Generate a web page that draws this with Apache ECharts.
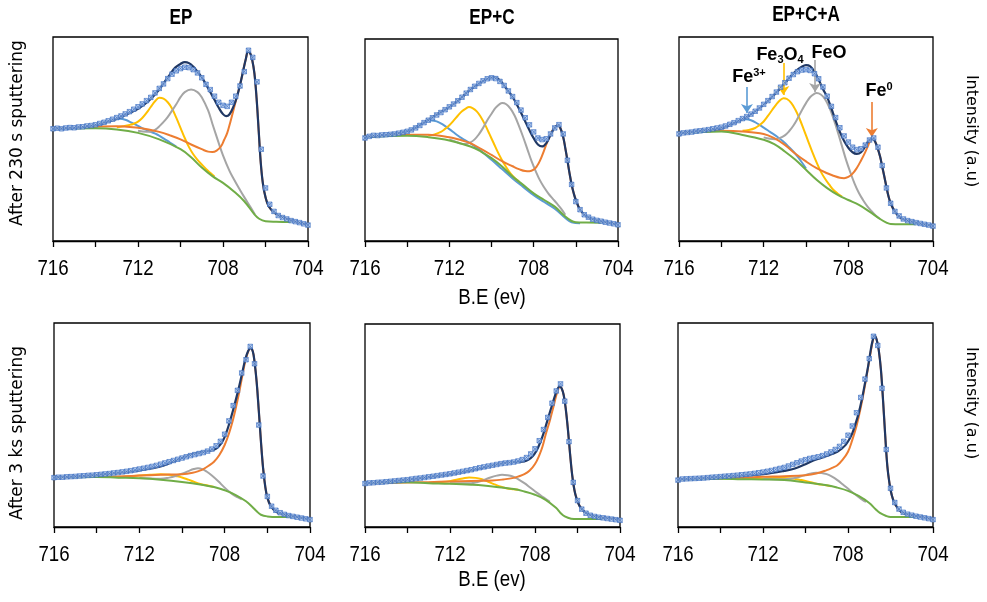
<!DOCTYPE html>
<html><head><meta charset="utf-8">
<script src="https://cdn.jsdelivr.net/npm/echarts@6.0.0/dist/echarts.min.js"></script>
<style>html,body{margin:0;padding:0;background:#fff}#c{width:987px;height:602px}</style>
</head><body><div id="c"></div>
<script>
// ---------- data ----------
const panelTitles = ['EP', 'EP+C', 'EP+C+A'];
const rowLabels = ['After 230 s sputtering', 'After 3 ks sputtering'];
const xTitle = 'B.E (ev)';
const yTitle = 'Intensity (a.u)';
const beLabels = [716, 712, 708, 704];

const rawBE = [716.0,715.8,715.6,715.4,715.2,715.0,714.8,714.6,714.4,714.2,714.0,713.8,713.6,713.4,713.2,713.0,712.8,712.6,712.4,712.2,712.0,711.8,711.6,711.4,711.2,711.0,710.8,710.6,710.4,710.2,710.0,709.8,709.6,709.4,709.2,709.0,708.8,708.6,708.4,708.2,708.0,707.8,707.6,707.4,707.2,707.0,706.8,706.6,706.4,706.2,706.0,705.8,705.6,705.4,705.2,705.0,704.8,704.6,704.4,704.2,704.0];

// Panel 1 : EP, 230 s
const p1Raw = [55.0,55.3,55.0,55.4,55.6,55.5,55.9,56.0,56.4,56.6,57.0,57.6,58.2,58.9,59.7,60.5,61.3,62.3,63.4,64.6,65.8,67.2,68.8,70.4,72.6,74.8,77.0,79.6,81.8,83.4,84.5,85.2,85.0,84.0,82.4,80.0,76.8,74.2,71.0,68.0,66.5,66.0,68.0,71.0,76.0,83.0,93.5,90.0,78.0,45.0,26.0,18.0,14.5,12.5,11.5,10.8,10.0,9.5,9.0,8.4,7.8];
const p1Fit = [[716,55.1],[715,55.5],[714,56.8],[713,59.9],[712.5,62.3],[712,64.8],[711.5,68.6],[711,74.3],[710.75,78],[710.5,81.6],[710.25,85],[710,86.8],[709.8,87.7],[709.6,87.2],[709.4,85.5],[709.2,83],[709,80.2],[708.8,76.8],[708.6,73],[708.4,69.2],[708.2,65.3],[708,62.2],[707.85,61.2],[707.7,62],[707.5,66.1],[707.35,70.5],[707.2,76.5],[707.05,83.5],[706.92,89.5],[706.82,92.8],[706.72,92],[706.62,88.5],[706.52,82],[706.42,70],[706.32,54],[706.22,38],[706.12,28],[706,21.5],[705.85,17],[705.6,14],[705.3,12.2],[705,10.9],[704.5,9.2],[704,8.1]];
const p1Bg = [[716,55.1],[714,55.3],[713,54.7],[712,53],[711,49.8],[710,45],[709.5,41],[709,36],[708.5,31.8],[708,28.5],[707.5,24.4],[707,19.5],[706.5,12.8],[706.3,10.9],[706,9.7],[705.5,9.4],[704.8,9.3]];
const p1Fe0 = [[716,55.1],[715,55.5],[714,56],[713,56.3],[712,55.5],[711.5,54.7],[711,53.5],[710.5,51.8],[710,49.8],[709.5,47.3],[709,45],[708.7,43.8],[708.5,43.6],[708.3,44.3],[708.1,46.3],[707.95,49.5],[707.8,53],[707.65,58.5],[707.5,64.5],[707.35,70.5],[707.2,76.5],[707.05,83.5],[706.92,89.5],[706.82,92.8],[706.72,92],[706.62,88.5],[706.52,82],[706.42,70],[706.32,54],[706.22,38],[706.12,28],[706,21.5],[705.85,17],[705.6,14],[705.3,12.2],[705,10.9],[704.5,9.2],[704,8.1]];
const p1FeO = [[712,54],[711.6,53.5],[711.4,53.6],[711.2,54.5],[711,56.2],[710.7,59.5],[710.5,62.3],[710.2,67],[710,70.5],[709.8,73],[709.5,74.3],[709.2,73],[709,70.5],[708.7,64],[708.5,57.5],[708.2,48],[708,42],[707.7,34.5],[707.5,30.5],[707.2,25],[707,21.5],[706.7,16.5],[706.5,13]];
const p1Fe3O4 = [[713,55.8],[712.7,56.3],[712.4,56.9],[712.2,57.5],[712,58.5],[711.8,60.3],[711.6,62.8],[711.4,65.7],[711.2,68.5],[711,70.2],[710.8,69.8],[710.6,68],[710.4,65],[710.2,60.5],[710,55.5],[709.8,50.5],[709.6,46],[709.4,42.5],[709.2,39.8],[709,37.5],[708.8,35.3],[708.6,33.4],[708.4,31.6]];
const p1Fe3 = [[715,55.5],[714.5,55.8],[714,56.4],[713.7,57.3],[713.4,58.6],[713.1,59.6],[712.85,59.9],[712.6,59.4],[712.3,58],[712,56.4],[711.7,54.8],[711.4,53.5],[711.1,52.2],[710.8,50.3],[710.5,48.3],[710.2,46.3]];

// Panel 2 : EP+C, 230 s
const p2Raw = [51.0,51.8,52.3,52.2,52.5,52.6,52.8,53.0,53.4,53.8,54.3,55.0,56.0,57.2,58.6,59.8,61.0,62.4,63.6,65.0,66.4,67.8,69.4,71.2,73.2,75.0,76.6,78.0,79.3,80.3,80.8,80.4,79.0,77.0,74.3,71.5,68.5,64.8,61.0,57.5,54.0,51.0,50.2,50.6,53.0,56.0,57.6,53.0,40.0,28.0,19.5,15.5,13.0,11.8,10.8,10.2,9.8,9.3,8.9,8.5,8.0];
const p2Fit = [[716,51.4],[715,52.6],[714,54.2],[713.5,56.7],[713,60],[712.5,63.3],[712,66.3],[711.5,70.2],[711,74.9],[710.5,78.5],[710.2,80.3],[710,81],[709.8,80.9],[709.6,79.5],[709.4,77],[709.2,74.2],[709,71.3],[708.8,67.6],[708.6,63.5],[708.4,59.2],[708.2,54.8],[708,50.9],[707.8,47.8],[707.6,46.8],[707.4,48.5],[707.2,52.5],[707.05,55.5],[706.95,56.8],[706.85,57.2],[706.75,56.3],[706.6,51.5],[706.5,46],[706.4,40],[706.3,33.6],[706.2,28],[706.1,23.6],[706,20.3],[705.8,15.6],[705.5,12.2],[705,10.1],[704.5,9.1],[704,8.3]];
const p2Bg = [[716,51.4],[714,52.1],[713,51.4],[712,49.8],[711,46.8],[710.5,44.3],[710,41],[709.5,36.9],[709,31.9],[708.5,27.8],[708,23.6],[707.5,20.3],[707,17],[706.5,12.1],[706.2,9.9],[706,9.3],[705.5,9.1],[704.8,9]];
const p2Fe0 = [[716,51.4],[715,52.2],[714,52.6],[713,52.6],[712,51.4],[711.5,50.1],[711,48.4],[710.5,45.6],[710,42.6],[709.5,39.5],[709,37],[708.7,35.6],[708.4,34.6],[708.2,34.5],[708,35.3],[707.85,37],[707.7,39.8],[707.5,45],[707.3,50.5],[707.1,54.8],[706.95,56.8],[706.85,57.2],[706.75,56.3],[706.6,51.5],[706.5,46],[706.4,40],[706.3,33.6],[706.2,28],[706.1,23.6],[706,20.3],[705.8,15.6],[705.5,12.2],[705,10.1],[704.5,9.1],[704,8.3]];
const p2FeO = [[712,50.3],[711.7,49.2],[711.45,48.2],[711.25,48],[711,48.8],[710.8,50.3],[710.6,52.8],[710.4,56],[710.2,59.8],[710,63],[709.8,66],[709.6,67.9],[709.49,68.3],[709.3,67.7],[709.1,65.5],[708.9,62],[708.7,57],[708.5,51.5],[708.3,45.5],[708.1,39.5],[707.9,34.5],[707.7,30],[707.5,26.5],[707.3,23.5],[707.1,21],[706.9,18.6],[706.7,16],[706.5,13]];
const p2Fe3O4 = [[713,52.2],[712.7,52.8],[712.4,54],[712.2,55.5],[712,57.3],[711.8,59.6],[711.6,62],[711.4,64.2],[711.2,65.7],[711.07,66.3],[710.9,65.8],[710.7,64.2],[710.5,61.3],[710.3,57.5],[710.1,53],[709.9,48.5],[709.7,44],[709.5,40],[709.3,36.5],[709.1,33.5],[708.9,31.2],[708.7,29.5]];
const p2Fe3 = [[716,51.4],[715,52.3],[714.5,53.1],[714,54.3],[713.7,55.8],[713.4,57.6],[713.1,59.2],[712.85,59.7],[712.6,59.2],[712.3,57.6],[712,55.4],[711.7,53],[711.4,50.8],[711.1,49],[710.8,47],[710.5,44.6],[710,40.2],[709.5,35.6],[709,31],[708.5,26.8],[708,22.7],[707.5,19.3],[707,16],[706.5,11.4],[706.2,9.3],[705.8,8.8]];

// Panel 3 : EP+C+A, 230 s
const p3Raw = [52.5,53.0,53.2,53.4,53.8,54.0,54.3,54.6,55.0,55.4,55.8,56.4,57.2,58.0,59.0,60.0,61.0,62.2,63.6,65.2,67.0,68.8,70.8,73.0,75.4,77.6,79.8,81.6,83.0,83.8,84.0,83.6,82.0,79.5,75.5,71.0,66.0,60.5,55.5,51.5,48.5,46.0,44.8,45.2,47.0,49.5,50.5,46.0,37.0,26.0,18.5,14.5,12.3,10.8,10.0,9.5,9.0,8.6,8.2,7.8,7.3];
const p3Fit = [[716,52.9],[715,54],[714,55.3],[713.5,57.3],[713,59.7],[712.5,62.7],[712,66.8],[711.5,71.7],[711,77.4],[710.5,83.1],[710.2,85.4],[710,86.2],[709.8,85.6],[709.6,83],[709.4,79],[709.2,74.5],[709,70.5],[708.8,65],[708.6,59],[708.4,53.5],[708.2,49],[708,45.7],[707.8,43.5],[707.6,42.7],[707.4,43.5],[707.2,46.5],[707.05,49],[706.9,50.2],[706.78,49.6],[706.65,46.5],[706.5,41.4],[706.4,36.5],[706.3,31.6],[706.2,26.5],[706.1,21.8],[706,18.5],[705.8,14.4],[705.5,11.1],[705,9.5],[704.5,8.3],[704,7.4]];
const p3Bg = [[716,52.9],[714,53.7],[713,52],[712,49.6],[711.5,47.5],[711,43.9],[710.5,39.8],[710,34.9],[709.5,30],[709,25.9],[708.5,22.6],[708,20.1],[707.5,17.7],[707,14.4],[706.5,10.8],[706.2,9],[706,8.3],[705.5,8.2],[704.8,8.2]];
const p3Fe0 = [[716,52.9],[715,53.6],[714,54],[713,53.7],[712,52.5],[711.5,50.4],[711,47.1],[710.5,42.8],[710,39],[709.5,35.7],[709,33.2],[708.7,32],[708.4,31],[708.2,30.8],[708,31.4],[707.8,33],[707.6,35.8],[707.4,39.5],[707.2,43.6],[707.05,47.2],[706.95,49.3],[706.88,50.1],[706.78,49.6],[706.65,46.5],[706.5,41.4],[706.4,36.5],[706.3,31.6],[706.2,26.5],[706.1,21.8],[706,18.5],[705.8,14.4],[705.5,11.1],[705,9.5],[704.5,8.3],[704,7.4]];
const p3FeO = [[712,50.8],[711.7,50.1],[711.45,49.9],[711.25,50.4],[711,51.8],[710.8,53.8],[710.6,56.5],[710.4,60],[710.2,64],[710,67.6],[709.8,70.6],[709.6,72.2],[709.5,72.5],[709.3,71.8],[709.1,69.5],[708.9,65.5],[708.7,60],[708.5,53.5],[708.3,46.5],[708.1,39.5],[707.9,33.5],[707.7,28],[707.5,23.5],[707.3,20],[707.1,17],[706.9,14.6],[706.7,12.4],[706.5,10.8]];
const p3Fe3O4 = [[713,54],[712.7,54.4],[712.4,55.4],[712.2,56.8],[712,58.6],[711.8,61.3],[711.6,64.2],[711.4,67],[711.2,69.2],[711.06,70],[710.9,69.6],[710.7,67.7],[710.5,64.3],[710.3,59.8],[710.1,54.5],[709.9,49],[709.7,43.6],[709.5,38.5],[709.3,34],[709.1,30.5],[708.9,27.6],[708.7,25],[708.5,23.2],[708.3,21.8]];
const p3Fe3 = [[715,54],[714.5,54.5],[714,55.1],[713.7,56.3],[713.4,57.8],[713.1,59.2],[712.85,59.7],[712.6,59.2],[712.3,57.6],[712,55.6],[711.7,53.5],[711.4,51.4],[711.1,49],[710.8,46],[710.5,42.7],[710.2,38.6],[710,35.5]];

// Panel 4 : EP, 3 ks
const p4Raw = [24.2,24.4,24.4,24.6,24.7,24.8,25.0,25.1,25.3,25.4,25.6,25.8,26.0,26.2,26.5,26.7,27.0,27.3,27.6,28.0,28.4,28.8,29.2,29.7,30.2,30.8,31.4,32.0,32.6,33.2,33.8,34.4,35.0,35.5,36.0,36.5,37.2,38.2,39.8,42.0,45.5,52.0,59.5,67.0,75.5,82.0,88.5,80.0,50.0,25.0,15.0,10.2,8.2,7.0,6.2,5.6,5.2,4.8,4.4,4.0,3.6];
const p4Fit = [[716,24.3],[715,24.8],[714,25.5],[713,26.5],[712,27.8],[711,29.7],[710.5,31.7],[710,33.8],[709.5,35.8],[709,36.8],[708.5,37.9],[708.3,39.2],[708.1,42],[707.95,45.5],[707.8,50.2],[707.6,57.5],[707.4,65.5],[707.2,74.5],[707.05,81.5],[706.9,86.3],[706.78,87.7],[706.68,86],[706.6,81],[706.5,71],[706.4,57],[706.3,42],[706.2,29],[706.1,20],[706,14.5],[705.85,10.5],[705.6,7.6],[705.3,6.3],[705,5.6],[704.5,4.7],[704,3.9]];
const p4Bg = [[716,24.3],[714,24.5],[713,24.2],[712,23.9],[711,23.2],[710,22.1],[709,20.6],[708.5,19.6],[708,18],[707.5,15.8],[707,12.6],[706.7,9.8],[706.5,7.7],[706.3,6],[706,5.2],[705.5,4.9],[704.8,4.9]];
const p4Fe0 = [[716,24.3],[714,24.6],[713,24.8],[712,25.2],[711,25.6],[710,25.9],[709.5,26.6],[709.2,27.5],[709,28.4],[708.75,30],[708.5,32],[708.25,35.3],[708,40.2],[707.8,45.8],[707.6,53],[707.4,62],[707.2,72.5],[707.05,80.5],[706.9,86],[706.78,87.7],[706.68,86],[706.6,81],[706.5,71],[706.4,57],[706.3,42],[706.2,29],[706.1,20],[706,14.5],[705.85,10.5],[705.6,7.6],[705.3,6.3],[705,5.6],[704.5,4.7],[704,3.9]];
const p4FeO = [[712,24],[711,23.6],[710.6,24.2],[710.3,25],[710,26.1],[709.7,27.4],[709.45,28.4],[709.25,28.8],[709.05,28.4],[708.85,27.2],[708.6,25.2],[708.3,22.4],[708,19.3],[707.7,16.6],[707.4,14.6],[707.2,13.6]];
const p4Fe3O4 = [[713,24.4],[712.5,24.8],[712,25.2],[711.5,25.6],[711,25.8],[710.6,25.6],[710.3,25],[710,24.3],[709.7,23.2],[709.4,22],[709.1,21],[708.8,20.3],[708.5,19.6]];

// Panel 5 : EP+C, 3 ks
const p5Raw = [21.4,21.7,21.8,22.0,22.1,22.3,22.5,22.7,22.9,23.1,23.3,23.6,23.9,24.1,24.4,24.7,25.0,25.3,25.6,25.9,26.2,26.6,27.0,27.4,27.8,28.2,28.7,29.2,29.6,30.0,30.4,30.8,31.2,31.5,31.7,32.0,32.5,33.2,34.2,36.0,38.5,42.5,48.0,54.0,61.0,67.0,70.5,62.0,42.0,22.0,13.0,8.8,6.8,5.8,5.2,4.8,4.5,4.2,3.9,3.6,3.3];
const p5Fit = [[716,21.6],[715,22.3],[714,23.3],[713,24.6],[712,25.9],[711,27.9],[710.5,29],[710,30.3],[709.5,31.5],[709,32],[708.5,32.3],[708.3,33.2],[708.1,35],[707.95,37.2],[707.8,40.5],[707.65,44.5],[707.5,49.5],[707.35,54.8],[707.2,60],[707.05,65],[706.95,67.8],[706.85,69.2],[706.75,68.4],[706.65,65],[706.55,58],[706.45,48],[706.35,36],[706.25,25.5],[706.15,18.5],[706.05,14.2],[705.9,10.3],[705.7,7.7],[705.4,5.9],[705,4.9],[704.5,4.3],[704,3.6]];
const p5Bg = [[716,21.6],[714,22],[713,21.6],[712,21.3],[711,20.8],[710,20],[709,18.7],[708.5,17.5],[708,15.9],[707.5,13.4],[707,9.3],[706.8,6.9],[706.6,5.2],[706.3,4.1],[706,3.9],[704.8,3.9]];
const p5Fe0 = [[716,21.6],[714,21.9],[713,22.1],[712,22.4],[711,22.7],[710,22.9],[709.5,23.4],[709,24.2],[708.75,25],[708.5,26],[708.25,27.8],[708,31],[707.8,35.3],[707.65,39.5],[707.5,45.4],[707.3,52.5],[707.15,58.5],[707,64.8],[706.9,68],[706.85,69.2],[706.75,68.4],[706.65,65],[706.55,58],[706.45,48],[706.35,36],[706.25,25.5],[706.15,18.5],[706.05,14.2],[705.9,10.3],[705.7,7.7],[705.4,5.9],[705,4.9],[704.5,4.3],[704,3.6]];
const p5FeO = [[712,21.5],[711,21.6],[710.7,22.2],[710.4,23.2],[710.1,24.4],[709.8,25.3],[709.55,25.7],[709.3,25.5],[709.05,24.9],[708.8,23.6],[708.5,21.6],[708.2,19.2],[707.9,16.8],[707.6,14.6],[707.3,12.4]];
const p5Fe3O4 = [[713,21.8],[712.5,22.1],[712,22.6],[711.7,23.3],[711.4,23.9],[711.1,24.4],[710.8,24.2],[710.5,23.5],[710.2,22.3],[709.9,21],[709.6,19.8],[709.3,19],[709,18.6],[708.8,18.3]];

// Panel 6 : EP+C+A, 3 ks
const p6Raw = [23.0,23.5,23.6,23.7,23.8,23.9,24.0,24.2,24.4,24.5,24.7,24.9,25.0,25.2,25.4,25.6,25.8,26.0,26.3,26.6,26.9,27.3,27.7,28.2,28.7,29.2,29.9,30.7,31.5,32.3,33.0,33.6,34.0,34.4,35.0,35.8,36.8,38.0,39.5,42.0,45.0,49.5,56.0,63.5,72.5,82.5,93.5,89.0,68.0,38.0,19.0,12.0,8.8,7.2,6.3,5.8,5.3,4.9,4.5,4.1,3.6];
const p6Fit = [[716,23.3],[715,23.9],[714,24.6],[713,25.2],[712,25.9],[711,27.5],[710.5,28.7],[710,30.8],[709.5,33.1],[709,34.8],[708.5,36.9],[708.3,38.4],[708.1,40.4],[707.95,42.8],[707.8,45.9],[707.65,50.5],[707.5,55.7],[707.35,62.5],[707.2,70.5],[707.05,79],[706.95,85.5],[706.85,91],[706.75,93.8],[706.65,91.8],[706.55,86.5],[706.45,77],[706.35,62],[706.25,45],[706.15,30],[706.05,21.5],[705.95,16],[705.8,11.5],[705.5,7.4],[705,5.7],[704.5,4.9],[704,3.8]];
const p6Bg = [[716,23.3],[714,23.6],[713,23.4],[712,23.3],[711,23],[710,21.8],[709,20.5],[708.5,19.3],[708,17.7],[707.5,15.2],[707,11.8],[706.7,8.7],[706.5,6.9],[706.2,5.4],[706,4.9],[704.8,4.9]];
const p6Fe0 = [[716,23.3],[714,23.8],[713,24.2],[712,24.6],[711,24.9],[710,25.4],[709.5,26.2],[709,27.9],[708.75,29],[708.5,30.3],[708.25,33],[708,36.9],[707.8,42.6],[707.6,49.5],[707.4,58.5],[707.2,69.5],[707.05,78.5],[706.92,86.5],[706.82,91.8],[706.75,93.8],[706.65,91.8],[706.55,86.5],[706.45,77],[706.35,62],[706.25,45],[706.15,30],[706.05,21.5],[705.95,16],[705.8,11.5],[705.5,7.4],[705,5.7],[704.5,4.9],[704,3.8]];
const p6FeO = [[712,23.5],[711,23.4],[710.7,23.7],[710.4,24.3],[710.1,25.2],[709.8,26.1],[709.5,26.6],[709.25,26.5],[709,25.9],[708.75,24.7],[708.5,23],[708.2,20.5],[707.9,17.9],[707.6,15.5],[707.3,13.2],[707.15,12.3]];
const p6Fe3O4 = [[713,23.5],[712.5,23.6],[712,23.8],[711.5,24],[711,24],[710.6,23.8],[710.3,23.2],[710,22.6],[709.7,21.8],[709.4,21],[709.1,20.6],[708.8,20]];

// annotation arrows in panel 3 (data coords: [B.E, intensity])
const arrowFe3 = [[712.79, 75.5], [712.79, 62.7]];
const arrowFe3O4 = [[711.07, 87.3], [711.07, 71.6]];
const arrowFeO = [[709.57, 88.7], [709.57, 73.0]];
const arrowFe0 = [[706.89, 68.1], [706.89, 51.0]];

// ---------- layout / style ----------
const C = {fit:'#203864', fe0:'#ed7d31', feo:'#a5a5a5', fe3o4:'#ffc000', fe3:'#5b9bd5', bg:'#70ad47'};
const SANS = "'Liberation Sans', Arial, sans-serif";
const grids = [
  {left:53, top:37, width:255, height:204},
  {left:365, top:39, width:253, height:202},
  {left:679, top:37, width:254, height:204},
  {left:54, top:323, width:256, height:204},
  {left:365, top:324, width:255, height:203},
  {left:678, top:323, width:255, height:204}
];
const panels = [
  {raw:p1Raw, fit:p1Fit, bg:p1Bg, fe0:p1Fe0, feo:p1FeO, fe3o4:p1Fe3O4, fe3:p1Fe3},
  {raw:p2Raw, fit:p2Fit, bg:p2Bg, fe0:p2Fe0, feo:p2FeO, fe3o4:p2Fe3O4, fe3:p2Fe3},
  {raw:p3Raw, fit:p3Fit, bg:p3Bg, fe0:p3Fe0, feo:p3FeO, fe3o4:p3Fe3O4, fe3:p3Fe3},
  {raw:p4Raw, fit:p4Fit, bg:p4Bg, fe0:p4Fe0, feo:p4FeO, fe3o4:p4Fe3O4},
  {raw:p5Raw, fit:p5Fit, bg:p5Bg, fe0:p5Fe0, feo:p5FeO, fe3o4:p5Fe3O4},
  {raw:p6Raw, fit:p6Fit, bg:p6Bg, fe0:p6Fe0, feo:p6FeO, fe3o4:p6Fe3O4}
];

function lineS(i, data, color, width, z, extra) {
  return Object.assign({
    type:'line', xAxisIndex:i, yAxisIndex:i, data:data, symbol:'none', showSymbol:false,
    smooth:0.4, lineStyle:{color:color, width:width}, z:z, silent:true
  }, extra || {});
}
function arrowML(pts, color) {
  return {
    silent:true, symbol:['none','arrow'], symbolSize:9, label:{show:false},
    lineStyle:{color:color, width:1.6, type:'solid'},
    itemStyle:{color:color},
    emphasis:{disabled:true},
    data:[[{coord:pts[0]},{coord:pts[1]}]]
  };
}

const series = [];
const xAxes = [], yAxes = [];
grids.forEach((g, i) => {
  xAxes.push({
    gridIndex:i, type:'value', inverse:true, min:704, max:716, interval:2,
    axisLine:{show:true, onZero:false, lineStyle:{color:'#000', width:1.3}},
    axisTick:{show:true, inside:false, length:6, lineStyle:{color:'#000', width:1.3}},
    axisLabel:{show:false},
    splitLine:{show:false}
  });
  yAxes.push({gridIndex:i, type:'value', min:0, max:100, show:false});
  const p = panels[i];
  const ml = (i === 2);
  if (p.fe3) series.push(lineS(i, p.fe3, C.fe3, 2, 2, ml ? {markLine:arrowML(arrowFe3, C.fe3)} : null));
  series.push(lineS(i, p.fe3o4, C.fe3o4, 2, 2, ml ? {markLine:arrowML(arrowFe3O4, C.fe3o4)} : null));
  series.push(lineS(i, p.feo, C.feo, 2, 2, ml ? {markLine:arrowML(arrowFeO, C.feo)} : null));
  series.push(lineS(i, p.fe0, C.fe0, 2, 2, ml ? {markLine:arrowML(arrowFe0, C.fe0)} : null));
  series.push(lineS(i, p.bg, C.bg, 2, 3));
  series.push(lineS(i, p.fit, C.fit, 2.2, 4));
  series.push({
    type:'scatter', xAxisIndex:i, yAxisIndex:i, silent:true, z:5,
    data: rawBE.map((e, k) => [e, p.raw[k]]),
    symbol:'path://M0 0L10 0L10 10L0 10ZM0 0L10 10M10 0L0 10', symbolSize:4.5,
    itemStyle:{color:'#a9c4ec', borderColor:'#3a6cc0', borderWidth:0.8}
  });
});

const gridOpts = grids.map(g => Object.assign({show:true, borderColor:'#000', borderWidth:1.3, backgroundColor:'#fff'}, g));

function txt(x, y, text, font, rot, extra) {
  return Object.assign({
    type:'text', x:x, y:y, rotation:rot || 0, silent:true, z:100,
    style:{text:text, font:font, fill:'#000', textAlign:'center', textVerticalAlign:'middle', align:'center', verticalAlign:'middle'}
  }, extra || {});
}
const richStyle = {
  b:{fontSize:18, fontWeight:'bold', fontFamily:SANS, fill:'#000', lineHeight:20},
  sup:{fontSize:11, fontWeight:'bold', fontFamily:SANS, fill:'#000', verticalAlign:'top'},
  sub:{fontSize:11, fontWeight:'bold', fontFamily:SANS, fill:'#000', verticalAlign:'bottom'}
};
function richTxt(x, y, text) {
  return {type:'text', x:x, y:y, silent:true, z:100,
    style:{text:text, rich:richStyle, textAlign:'center', textVerticalAlign:'middle', align:'center', verticalAlign:'middle', fill:'#000'}};
}

const graphic = [
  txt(181, 18, panelTitles[0], "bold 22px " + SANS, 0, {scaleX:0.78}),
  txt(492, 18, panelTitles[1], "bold 22px " + SANS, 0, {scaleX:0.78}),
  txt(806, 15, panelTitles[2], "bold 22px " + SANS, 0, {scaleX:0.78}),
  txt(492, 298, xTitle, "22px " + SANS, 0, {scaleX:0.85}),
  txt(492, 580, xTitle, "22px " + SANS, 0, {scaleX:0.85}),
  txt(18, 133, rowLabels[0], "17px 'DejaVu Sans', sans-serif", Math.PI/2),
  txt(18, 433, rowLabels[1], "17px 'DejaVu Sans', sans-serif", Math.PI/2),
  txt(971, 131, yTitle, "16px 'DejaVu Sans', sans-serif", -Math.PI/2),
  txt(971, 403, yTitle, "16px 'DejaVu Sans', sans-serif", -Math.PI/2),
  richTxt(749, 77, '{b|Fe}{sup|3+}'),
  richTxt(780, 55, '{b|Fe}{sub|3}{b|O}{sub|4}'),
  richTxt(829, 53, '{b|FeO}'),
  richTxt(879, 91, '{b|Fe}{sup|0}')
];

const chart = echarts.init(document.getElementById('c'), null, {renderer:'canvas'});
chart.setOption({
  animation:false,
  backgroundColor:'#fff',
  grid:gridOpts,
  xAxis:xAxes,
  yAxis:yAxes,
  series:series,
  graphic:graphic
});

// tick labels: positioned through the axis scale, drawn slightly condensed like the original
const tickTexts = [];
grids.forEach((g, i) => {
  const yy = g.top + g.height + 28;
  beLabels.forEach(v => {
    const px = chart.convertToPixel({xAxisIndex:i}, v);
    tickTexts.push(txt(px, yy, String(v), "22px " + SANS, 0, {scaleX:0.85}));
  });
});
chart.setOption({graphic: graphic.concat(tickTexts)});
</script></body></html>
